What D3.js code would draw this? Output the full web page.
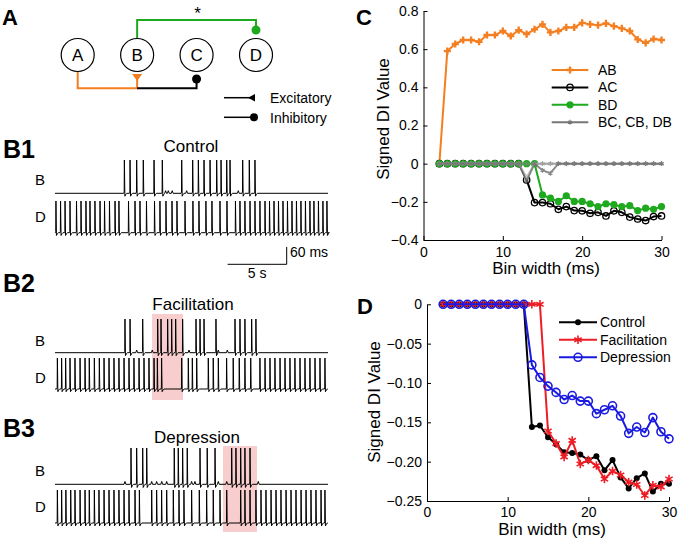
<!DOCTYPE html>
<html>
<head>
<meta charset="utf-8">
<script src="https://cdn.jsdelivr.net/npm/d3@7"></script>
<style>
  body { margin: 0; background: #fff; }
  svg { display: block; font-family: "Liberation Sans", Arial, Helvetica, sans-serif; }
</style>
</head>
<body>
<svg id="fig" width="678" height="542"></svg>
<script>
// ---------- data: panel C / D (signed DI vs bin width) ----------
const bins = [2,3,4,5,6,7,8,9,10,11,12,13,14,15,16,17,18,19,20,21,22,23,24,25,26,27,28,29,30];

const diAB = [0, 0.59, 0.627, 0.648, 0.648, 0.639, 0.674, 0.674, 0.695, 0.669, 0.70, 0.679, 0.704, 0.73,
  0.688, 0.695, 0.714, 0.714, 0.738, 0.73, 0.726, 0.735, 0.721, 0.709, 0.695, 0.651, 0.633, 0.653, 0.648];
const diAC = [0,0,0,0,0,0,0,0,0,0,0, -0.085, -0.204, -0.204, -0.21, -0.239, -0.225, -0.246, -0.247,
  -0.26, -0.255, -0.274, -0.247, -0.255, -0.28, -0.29, -0.298, -0.277, -0.274];
const diBD = [0,0,0,0,0,0,0,0,0,0,0,0,0, -0.164, -0.181, -0.198, -0.168, -0.198, -0.198, -0.21,
  -0.225, -0.21, -0.215, -0.225, -0.22, -0.246, -0.233, -0.239, -0.225];
const diBC = [0,0,0,0,0,0,0,0,0,0,0, -0.09, 0, -0.035, -0.05, 0,0,0,0,0,0,0,0,0,0,0,0,0,0];
const diCB = [0,0,0,0,0,0,0,0,0,0,0, -0.07, 0,0,0,0,0,0,0,0,0,0,0,0,0,0,0,0,0];
const diDB = [0,0,0,0,0,0,0,0,0,0,0,0,0,0,0,0,0,0,0,0,0,0,0,0,0,0,0,0,0];

const diControl = [0,0,0,0,0,0,0,0,0,0,0, -0.156, -0.154, -0.169, -0.178, -0.188, -0.189, -0.191, -0.198,
  -0.193, -0.211, -0.198, -0.22, -0.234, -0.221, -0.215, -0.238, -0.228, -0.228];
const diFacil = [0,0,0,0,0,0,0,0,0,0,0,0,0, -0.161, -0.177, -0.194, -0.173, -0.203, -0.198, -0.205,
  -0.222, -0.212, -0.217, -0.226, -0.229, -0.243, -0.23, -0.232, -0.222];
const diDepr = [0,0,0,0,0,0,0,0,0,0,0, -0.077, -0.093, -0.104, -0.112, -0.121, -0.116, -0.123, -0.123,
  -0.139, -0.134, -0.129, -0.142, -0.164, -0.156, -0.163, -0.144, -0.162, -0.171];

const ticksCx = [0, 10, 20, 30];
const ticksCy = [-0.4, -0.2, 0, 0.2, 0.4, 0.6, 0.8];
const ticksDy = [-0.25, -0.2, -0.15, -0.1, -0.05, 0];

// ---------- data: panel B spike trains (times in s) ----------
const traceDuration = 23.1;
const b1SpikesB = [5.87, 6.35, 6.91, 7.47, 8.38, 9.08, 10.72, 11.65, 12.13, 12.61, 13.12, 13.68, 14.05, 14.53, 14.81, 15.88, 16.44, 16.92];
const b1BumpsB = [9.36, 9.59, 9.92, 11.14, 15.51];
const b1SpikesD = [0.08, 0.47, 0.85, 1.27, 1.82, 2.20, 2.62, 2.96, 3.38, 3.81, 4.19, 4.61, 5.08, 5.41, 6.22, 6.77, 7.19, 7.74,
  8.42, 8.88, 9.39, 9.90, 10.32, 11.00, 11.67, 12.18, 12.77, 13.28, 13.96, 14.55, 15.27, 15.65, 16.07, 16.50, 16.92, 17.34,
  17.77, 18.15, 18.53, 18.91, 19.29, 19.67, 20.05, 20.43, 20.81, 21.19, 21.57, 21.91, 22.29, 22.67, 23.01];

const b2SpikesB = [5.92, 6.35, 7.42, 8.69, 8.97, 9.53, 9.87, 10.21, 10.80, 11.93, 12.27, 12.61, 13.62, 15.23, 15.65, 16.07, 16.64, 17.00];
const b2BumpsB = [6.91, 8.23, 11.34, 13.82, 14.58];
const b2SpikesD = [0.20, 0.56, 0.90, 1.27, 1.69, 2.12, 2.54, 2.90, 3.33, 3.75, 4.15, 4.57, 4.99, 5.41, 5.84, 6.26, 6.68, 7.11,
  7.53, 7.95, 8.38, 8.66, 9.02, 10.72, 11.28, 11.62, 11.99, 12.97, 13.39, 13.82, 14.52, 15.08, 15.59, 16.07, 16.56, 17.34,
  17.77, 18.19, 18.61, 19.04, 19.46, 19.88, 20.30, 20.73, 21.15, 21.57, 22.00, 22.42, 22.84];
const facilWindow = [8.21, 10.83];

const b3SpikesB = [6.43, 6.91, 7.42, 7.76, 10.09, 10.43, 10.80, 11.19, 12.27, 12.88, 13.54, 14.95, 15.31, 15.71, 16.07, 16.50];
const b3BumpsB = [5.92, 8.18, 8.60, 9.03, 9.45, 11.56, 11.84, 13.82, 14.53, 17.20];
const b3SpikesD = [0.20, 0.56, 0.92, 1.33, 1.69, 2.12, 2.54, 2.90, 3.33, 3.72, 4.15, 4.57, 4.99, 5.41, 5.84, 6.26, 6.77, 7.14,
  8.18, 8.60, 9.02, 9.45, 10.01, 10.49, 10.91, 11.56, 12.21, 12.83, 13.39, 13.96, 14.53, 15.71, 16.07, 16.50, 17.00, 17.43,
  17.85, 18.28, 18.70, 19.12, 19.55, 19.97, 20.39, 20.82, 21.24, 21.66, 22.08, 22.51, 22.84];
const deprWindow = [14.21, 17.09];

const scaleBarTime = 5;   // s
const scaleBarVolt = 60;

const nodes = ["A", "B", "C", "D"];

// ---------- colours ----------
const orange = "#f47f20", green = "#1fa91f", red = "#ee1c24", blue = "#1a1ae0";
const grayDark = "#6f6f6f", grayLight = "#c9c9c9", grayMid = "#8a8a8a";

const svg = d3.select("#fig");
svg.append("rect").attr("width", 678).attr("height", 542).attr("fill", "#fff");

function panelLetter(txt, x, y, size) {
  svg.append("text").attr("x", x).attr("y", y).attr("font-size", size).attr("font-weight", "bold").text(txt);
}

// ===================== Panel A: circuit =====================
const nx = d3.scalePoint().domain(nodes).range([77.7, 256]);
const ny = 55, nr = 16.5;
const gA = svg.append("g");

// green B -> D
gA.append("path")
  .attr("d", `M${nx("B")},${ny - nr} V20 H${nx("D")} V30`)
  .attr("fill", "none").attr("stroke", green).attr("stroke-width", 2);
gA.append("circle").attr("cx", nx("D")).attr("cy", 30).attr("r", 4.5).attr("fill", green);
gA.append("text").attr("x", (nx("B") + nx("D")) / 2 + 1).attr("y", 19).attr("text-anchor", "middle")
  .attr("font-size", 17).text("*");

// orange A -> B
gA.append("path")
  .attr("d", `M${nx("A")},${ny + nr} V88.3 H${nx("B")} V79`)
  .attr("fill", "none").attr("stroke", orange).attr("stroke-width", 2);
gA.append("path")
  .attr("d", `M${nx("B") - 5},74 L${nx("B") + 5},74 L${nx("B")},81 Z`)
  .attr("fill", orange);
// black -> C
gA.append("path")
  .attr("d", `M${nx("B")},88.3 H${nx("C")} V80`)
  .attr("fill", "none").attr("stroke", "#000").attr("stroke-width", 2);
gA.append("circle").attr("cx", nx("C")).attr("cy", 79).attr("r", 4.5).attr("fill", "#000");

nodes.forEach(n => {
  gA.append("circle").attr("cx", nx(n)).attr("cy", ny).attr("r", nr)
    .attr("fill", "#fff").attr("stroke", "#000").attr("stroke-width", 1.2);
  gA.append("text").attr("x", nx(n)).attr("y", ny + 6).attr("text-anchor", "middle")
    .attr("font-size", 17).text(n);
});

// synapse key
gA.append("line").attr("x1", 224).attr("x2", 252).attr("y1", 97.7).attr("y2", 97.7).attr("stroke", "#000").attr("stroke-width", 1.5);
gA.append("path").attr("d", "M248,97.7 L255,94 L255,101.4 Z").attr("fill", "#000");
gA.append("text").attr("x", 270).attr("y", 103).attr("font-size", 14).text("Excitatory");
gA.append("line").attr("x1", 224).attr("x2", 252).attr("y1", 117.3).attr("y2", 117.3).attr("stroke", "#000").attr("stroke-width", 1.5);
gA.append("circle").attr("cx", 254).attr("cy", 117.3).attr("r", 4).attr("fill", "#000");
gA.append("text").attr("x", 270).attr("y", 123).attr("font-size", 14).text("Inhibitory");

panelLetter("A", 2, 25, 22);

// ===================== Panel B: spike trains =====================
const xs = d3.scaleLinear().domain([0, traceDuration]).range([55, 328]);
const rest = -60, peak = 55, under = -70;

function tracePath(spikes, bumps, vs) {
  const ev = spikes.map(t => ({ t, s: true })).concat(bumps.map(t => ({ t, s: false })))
    .sort((a, b) => a.t - b.t);
  const pts = [[xs.range()[0], vs(rest)]];
  ev.forEach(e => {
    const x = xs(e.t);
    if (e.s) {
      pts.push([x - 0.6, vs(rest)], [x - 0.2, vs(rest + 4)], [x, vs(peak)], [x + 0.5, vs(under)],
        [x + 1.6, vs(rest - 3)], [x + 2.4, vs(rest)]);
    } else {
      pts.push([x - 0.9, vs(rest)], [x, vs(rest + 9)], [x + 0.9, vs(rest)]);
    }
  });
  pts.push([xs.range()[1], vs(rest)]);
  return d3.line()(pts);
}

const bPanels = [
  { letter: "B1", letterY: 158, title: "Control", titleX: 191, titleY: 152,
    rows: [{ lab: "B", spikes: b1SpikesB, bumps: b1BumpsB, base: 193.3, top: 160, labY: 185 },
           { lab: "D", spikes: b1SpikesD, bumps: [], base: 232.7, top: 201, labY: 222 }] },
  { letter: "B2", letterY: 292, title: "Facilitation", titleX: 193, titleY: 310, win: facilWindow, winY: [314, 400],
    rows: [{ lab: "B", spikes: b2SpikesB, bumps: b2BumpsB, base: 352.7, top: 319, labY: 346 },
           { lab: "D", spikes: b2SpikesD, bumps: [], base: 389, top: 358, labY: 383 }] },
  { letter: "B3", letterY: 437, title: "Depression", titleX: 197, titleY: 443, win: deprWindow, winY: [446, 532],
    rows: [{ lab: "B", spikes: b3SpikesB, bumps: b3BumpsB, base: 484.3, top: 448, labY: 476 },
           { lab: "D", spikes: b3SpikesD, bumps: [], base: 523, top: 490, labY: 512 }] }
];

bPanels.forEach(p => {
  if (p.win) {
    svg.append("rect").attr("x", xs(p.win[0])).attr("width", xs(p.win[1]) - xs(p.win[0]))
      .attr("y", p.winY[0]).attr("height", p.winY[1] - p.winY[0]).attr("fill", "#f8cdcd");
  }
  panelLetter(p.letter, 3, p.letterY, 25);
  svg.append("text").attr("x", p.titleX).attr("y", p.titleY).attr("text-anchor", "middle")
    .attr("font-size", 17).text(p.title);
  p.rows.forEach(r => {
    const vs = d3.scaleLinear().domain([rest, peak]).range([r.base, r.top]);
    svg.append("path").attr("d", tracePath(r.spikes, r.bumps, vs))
      .attr("fill", "none").attr("stroke", "#000").attr("stroke-width", 1);
    svg.append("text").attr("x", 35).attr("y", r.labY).attr("font-size", 15).text(r.lab);
  });
});

// scale bar
{
  const vsBar = d3.scaleLinear().domain([rest, peak]).range([193.3, 160]);
  const barH = vsBar(rest) - vsBar(rest + scaleBarVolt);
  const x1 = 286.7, y1 = 264.3;
  const x0 = x1 - (xs(scaleBarTime) - xs(0));
  svg.append("path").attr("d", `M${x0},${y1} H${x1} V${y1 - barH}`)
    .attr("fill", "none").attr("stroke", "#000").attr("stroke-width", 1);
  svg.append("text").attr("x", 290).attr("y", 257).attr("font-size", 14).text(`${scaleBarVolt} ms`);
  svg.append("text").attr("x", (x0 + x1) / 2).attr("y", 278).attr("text-anchor", "middle")
    .attr("font-size", 14).text(`${scaleBarTime} s`);
}

// ===================== helpers for C / D =====================
const fmtMinus = s => s.replace("-", "\u2212");

function styleAxis(g) {
  g.selectAll("path,line").attr("stroke", "#000").attr("stroke-width", 1);
  g.selectAll("text").attr("font-size", 14).attr("fill", "#000");
  g.attr("font-family", null);
}

function drawMarker(g, kind, color, x, y) {
  if (kind === "circleOpen") {
    g.append("circle").attr("cx", x).attr("cy", y).attr("r", 3.2).attr("fill", "none")
      .attr("stroke", color).attr("stroke-width", 1.3);
  } else if (kind === "circleBig") {
    g.append("circle").attr("cx", x).attr("cy", y).attr("r", 4).attr("fill", "none")
      .attr("stroke", color).attr("stroke-width", 1.6);
  } else if (kind === "dot") {
    g.append("circle").attr("cx", x).attr("cy", y).attr("r", 3.6).attr("fill", color);
  } else if (kind === "dotSmall") {
    g.append("circle").attr("cx", x).attr("cy", y).attr("r", 3).attr("fill", color);
  } else if (kind === "cross") {
    g.append("path").attr("d", d3.symbol().type(d3.symbolCross).size(28)())
      .attr("transform", `translate(${x},${y})`).attr("fill", color);
  } else if (kind === "star") {
    g.append("path").attr("d", d3.symbol().type(d3.symbolAsterisk).size(50)())
      .attr("transform", `translate(${x},${y})`).attr("fill", "none").attr("stroke", color).attr("stroke-width", 1.6);
  } else if (kind === "starSmall") {
    g.append("path").attr("d", d3.symbol().type(d3.symbolAsterisk).size(16)())
      .attr("transform", `translate(${x},${y})`).attr("fill", "none").attr("stroke", color).attr("stroke-width", 1.2);
  }
}

function drawSeries(g, x, y, vals, s) {
  const pts = bins.map((b, i) => [x(b), y(vals[i])]);
  const sg = g.append("g").attr("opacity", s.opacity || 1);
  sg.append("path").attr("d", d3.line()(pts)).attr("fill", "none")
    .attr("stroke", s.color).attr("stroke-width", 2).attr("stroke-linejoin", "round");
  pts.forEach(p => drawMarker(sg, s.marker, s.color, p[0], p[1]));
}

function drawLegend(g, items, x0, x1, tx, y0, dy) {
  items.forEach((it, i) => {
    const y = y0 + i * dy;
    g.append("line").attr("x1", x0).attr("x2", x1).attr("y1", y).attr("y2", y)
      .attr("stroke", it.color).attr("stroke-width", 2);
    drawMarker(g, it.marker, it.color, (x0 + x1) / 2, y);
    g.append("text").attr("x", tx).attr("y", y + 5).attr("font-size", 14).text(it.label);
  });
}

// ===================== Panel C =====================
const xC = d3.scaleLinear().domain([0, 30]).range([423.5, 661.5]);
const yC = d3.scaleLinear().domain([-0.4, 0.8]).range([240, 11]);
const gC = svg.append("g");

gC.append("g").attr("transform", "translate(0,240)")
  .call(d3.axisBottom(xC).tickValues(ticksCx).tickSizeInner(-4).tickSizeOuter(0).tickPadding(7))
  .call(styleAxis);
gC.append("g").attr("transform", "translate(423.5,0)")
  .call(d3.axisLeft(yC).tickValues(ticksCy).tickSizeInner(-4).tickSizeOuter(0).tickPadding(5)
    .tickFormat(d => d === 0 ? "0" : fmtMinus(d3.format(".1f")(d))))
  .call(styleAxis);

const seriesC = [
  { vals: diAB, color: orange, marker: "cross", label: "AB" },
  { vals: diAC, color: "#000", marker: "circleOpen", label: "AC" },
  { vals: diBD, color: green, marker: "dot", label: "BD" },
  { vals: diCB, color: grayLight, marker: "starSmall" },
  { vals: diDB, color: grayMid, marker: "starSmall", opacity: 0.6 },
  { vals: diBC, color: grayDark, marker: "starSmall", opacity: 0.8, label: "BC, CB, DB" }
];
seriesC.forEach(s => drawSeries(gC, xC, yC, s.vals, s));

drawLegend(gC, seriesC.filter(s => s.label).map(s => ({ ...s, color: s.color === grayDark ? "#777" : s.color })),
  551.7, 588.3, 598, 70, 17.4);

gC.append("text").attr("x", 546).attr("y", 274).attr("text-anchor", "middle")
  .attr("font-size", 17).text("Bin width (ms)");
gC.append("text").attr("transform", "translate(389,119) rotate(-90)").attr("text-anchor", "middle")
  .attr("font-size", 17).text("Signed DI Value");
panelLetter("C", 356, 25, 22);

// ===================== Panel D =====================
const xD = d3.scaleLinear().domain([0, 30]).range([427, 669]);
const yD = d3.scaleLinear().domain([-0.25, 0]).range([501, 304.3]);
const gD = svg.append("g");

gD.append("g").attr("transform", "translate(0,501)")
  .call(d3.axisBottom(xD).tickValues(ticksCx).tickSizeInner(-4).tickSizeOuter(0).tickPadding(6))
  .call(styleAxis);
gD.append("g").attr("transform", "translate(427,0)")
  .call(d3.axisLeft(yD).tickValues(ticksDy).tickSizeInner(-4).tickSizeOuter(0).tickPadding(5)
    .tickFormat(d => d === 0 ? "0" : fmtMinus(d3.format(".2f")(d))))
  .call(styleAxis);

const seriesD = [
  { vals: diControl, color: "#000", marker: "dotSmall", label: "Control" },
  { vals: diFacil, color: red, marker: "star", label: "Facilitation" },
  { vals: diDepr, color: blue, marker: "circleBig", label: "Depression" }
];
seriesD.forEach(s => drawSeries(gD, xD, yD, s.vals, s));
drawLegend(gD, seriesD, 559, 597, 600, 322.3, 17.5);

gD.append("text").attr("x", 552).attr("y", 535).attr("text-anchor", "middle")
  .attr("font-size", 17).text("Bin width (ms)");
gD.append("text").attr("transform", "translate(380,402) rotate(-90)").attr("text-anchor", "middle")
  .attr("font-size", 17).text("Signed DI Value");
panelLetter("D", 357, 314, 22);
</script>
</body>
</html>
